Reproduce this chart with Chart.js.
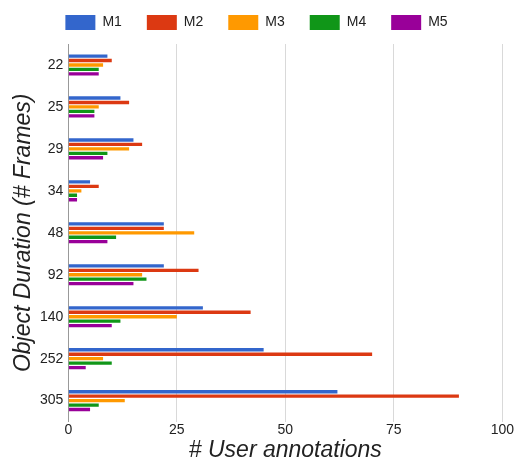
<!DOCTYPE html>
<html>
<head>
<meta charset="utf-8">
<script src="https://cdn.jsdelivr.net/npm/chart.js@4.4.0/dist/chart.umd.min.js"></script>
<style>
  html, body { margin: 0; padding: 0; background: #fff; }
  #wrap { position: relative; width: 515px; height: 462px; }
</style>
</head>
<body>
<div id="wrap"><canvas id="chart"></canvas></div>
<script>
// frame duration buckets (y categories)
var durations = ['22', '25', '29', '34', '48', '92', '140', '252', '305'];

// number of user annotations per method
var m1 = [9, 12, 15, 5, 22, 22, 31, 45, 62];
var m2 = [10, 14, 17, 7, 22, 30, 42, 70, 90];
var m3 = [8, 7, 14, 3, 29, 17, 25, 8, 13];
var m4 = [7, 6, 9, 2, 11, 18, 12, 10, 7];
var m5 = [7, 6, 8, 2, 9, 15, 10, 4, 5];

var xTicks = [0, 25, 50, 75, 100];

var fontFamily = '"Liberation Sans", Arial, sans-serif';

function series(label, values, color) {
  return {
    label: label,
    data: values,
    backgroundColor: color,
    borderWidth: 0,
    barPercentage: 0.75,
    categoryPercentage: 0.53
  };
}

// a bit more room under the legend
var legendGap = {
  id: 'legendGap',
  beforeInit: function(chart) {
    var fit = chart.legend.fit;
    chart.legend.fit = function() {
      fit.bind(chart.legend)();
      this.height += 4;
    };
  }
};

document.addEventListener('DOMContentLoaded', function() {
  new Chart('chart', {
    type: 'bar',
    data: {
      labels: durations,
      datasets: [
        series('M1', m1, '#3366cc'),
        series('M2', m2, '#dc3912'),
        series('M3', m3, '#ff9900'),
        series('M4', m4, '#109618'),
        series('M5', m5, '#990099')
      ]
    },
    plugins: [legendGap],
    options: {
      indexAxis: 'y',
      responsive: true,
      maintainAspectRatio: false,
      animation: false,
      layout: { padding: { top: -10, left: 0, right: 2, bottom: 0 } },
      plugins: {
        tooltip: { enabled: false },
        legend: {
          position: 'top',
          labels: {
            boxWidth: 30,
            boxHeight: 15,
            padding: 25,
            color: '#222',
            font: { family: fontFamily, size: 14 }
          }
        }
      },
      scales: {
        x: {
          min: 0,
          max: 100,
          afterBuildTicks: function(axis) {
            axis.ticks = xTicks.map(function(v) { return { value: v }; });
          },
          grid: { color: '#d9d9d9', drawTicks: false, tickLength: 0 },
          border: { display: false },
          ticks: {
            color: '#222',
            padding: 1,
            font: { family: fontFamily, size: 14, lineHeight: 1.1 }
          },
          title: {
            display: true,
            text: '# User annotations',
            color: '#222',
            padding: { top: 0, bottom: 0 },
            font: { family: fontFamily, size: 23, style: 'italic', lineHeight: 1 }
          }
        },
        y: {
          grid: { display: false, drawTicks: false, tickLength: 0 },
          border: { display: true, color: '#999', width: 1 },
          ticks: {
            color: '#222',
            padding: 5,
            font: { family: fontFamily, size: 14 }
          },
          title: {
            display: true,
            text: 'Object Duration (# Frames)',
            color: '#222',
            padding: { top: 12, bottom: 0 },
            font: { family: fontFamily, size: 23, style: 'italic', lineHeight: 1 }
          }
        }
      }
    }
  });
});
</script>
</body>
</html>
